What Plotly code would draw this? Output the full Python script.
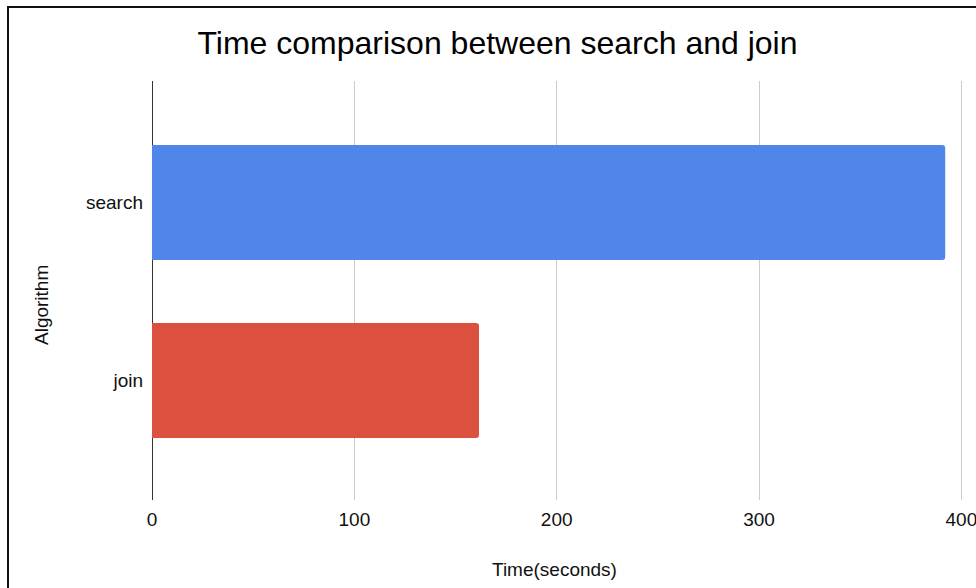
import plotly.graph_objects as go

# Run times per algorithm
algorithms = ["join", "search"]
times_sec = [161.6, 392]
bar_colors = ["#db503f", "#5086ea"]
x_ticks = [0, 100, 200, 300, 400]

W, H = 976, 588
L, R, T, B = 152, 0, 81, 88
plot_w = W - L - R
plot_h = H - T - B
px_per_sec = 2.0235
x_max = plot_w / px_per_sec

def px_x(px):
    return (px - L) / plot_w

def px_y(py):
    return (H - B - py) / plot_h

font = "Arial, 'Liberation Sans', sans-serif"

fig = go.Figure(
    go.Bar(
        x=times_sec,
        y=algorithms,
        orientation="h",
        marker=dict(color=bar_colors, line=dict(width=0)),
        width=0.646,
        hoverinfo="x+y",
    )
)

fig.update_layout(
    width=W,
    height=H,
    margin=dict(l=L, r=R, t=T, b=B),
    paper_bgcolor="white",
    plot_bgcolor="white",
    barcornerradius=3,
    showlegend=False,
    title=dict(
        text="Time comparison between search and join",
        font=dict(family=font, size=32, color="#000"),
        x=497.5 / W,
        xanchor="center",
        y=1 - 43 / H,
        yanchor="middle",
    ),
    xaxis=dict(
        range=[0, x_max],
        tickvals=x_ticks,
        showgrid=True,
        gridcolor="#cccccc",
        gridwidth=1,
        zeroline=True,
        zerolinecolor="#333333",
        zerolinewidth=1,
        showline=False,
        ticks="",
        tickfont=dict(family=font, size=19, color="#111"),
        ticklabelstandoff=6,
        ticklabeloverflow="allow",
        fixedrange=True,
    ),
    yaxis=dict(
        type="category",
        categoryorder="array",
        categoryarray=algorithms,
        range=[-0.671, 1.683],
        showgrid=False,
        showline=False,
        zeroline=False,
        ticks="",
        tickfont=dict(family=font, size=19, color="#111"),
        ticklabelstandoff=8,
        fixedrange=True,
    ),
    annotations=[
        dict(
            text="Time(seconds)",
            xref="paper", yref="paper",
            x=px_x(554.7), y=px_y(569),
            xanchor="center", yanchor="middle",
            showarrow=False,
            font=dict(family=font, size=19, color="#111"),
        ),
        dict(
            text="Algorithm",
            xref="paper", yref="paper",
            x=px_x(41), y=px_y(305),
            xanchor="center", yanchor="middle",
            textangle=-90,
            showarrow=False,
            font=dict(family=font, size=19, color="#111"),
        ),
    ],
    shapes=[
        # outer frame of the chart card
        dict(
            type="rect",
            xref="paper", yref="paper",
            x0=px_x(8), x1=px_x(1000),
            y0=px_y(620), y1=px_y(7),
            line=dict(color="#111", width=2),
            fillcolor="rgba(0,0,0,0)",
            layer="below",
        )
    ],
)

fig.write_html("out.html")
